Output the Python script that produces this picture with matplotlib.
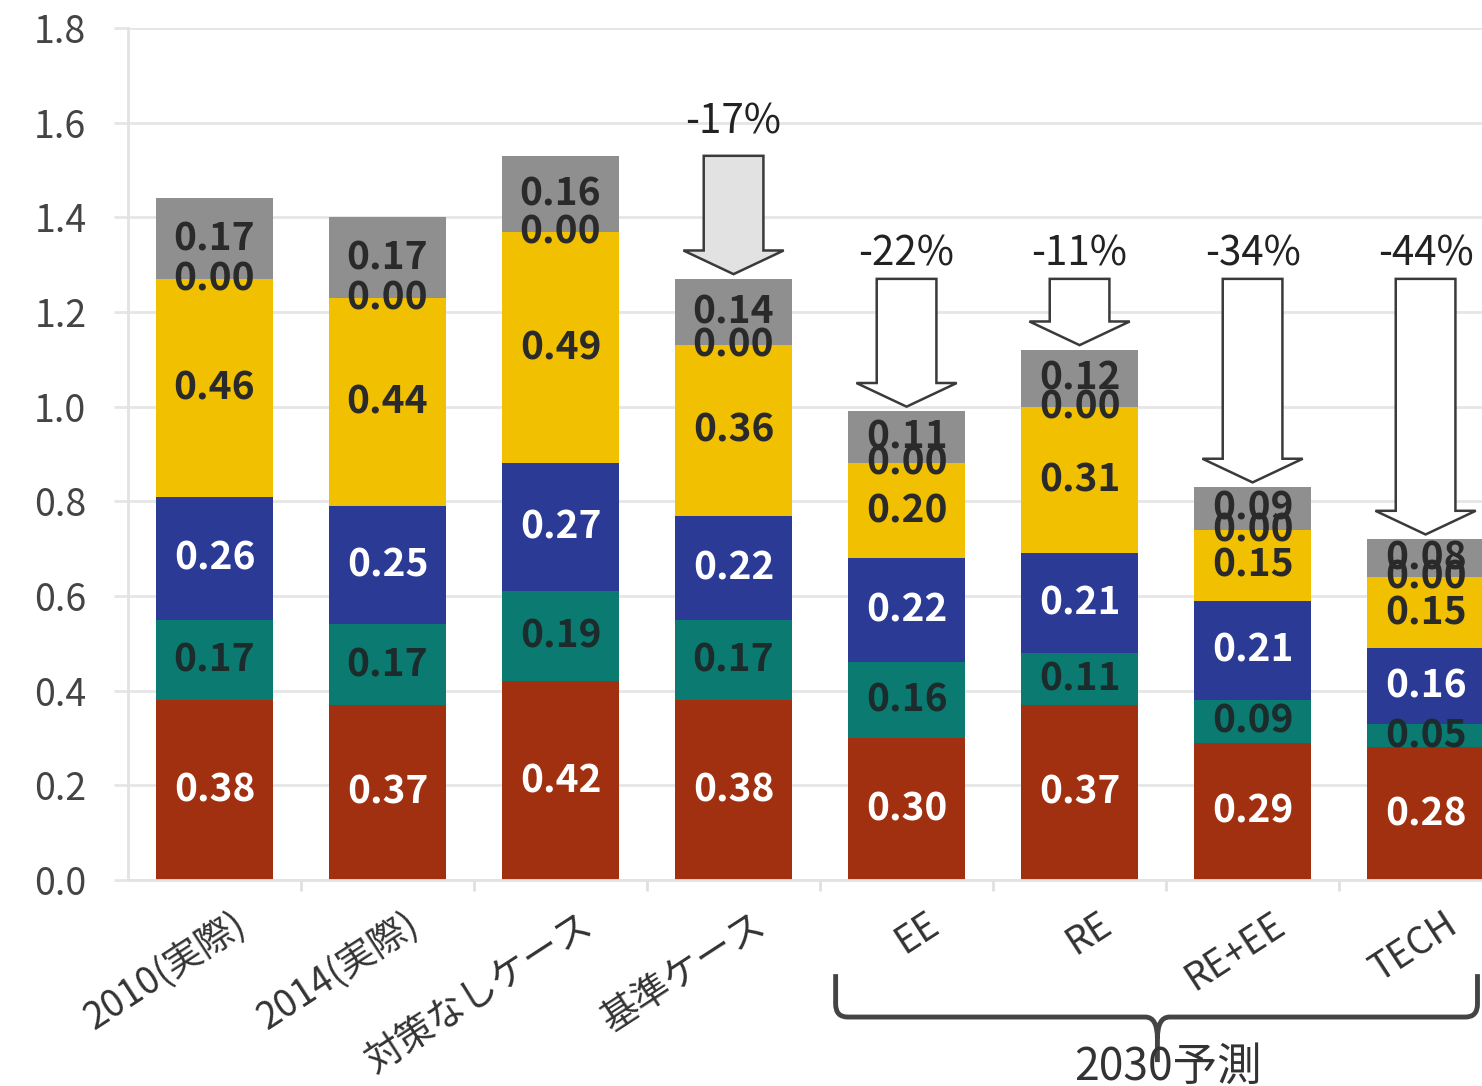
import numpy as np
import matplotlib.pyplot as plt
from matplotlib.patches import FancyArrow, PathPatch
from matplotlib.path import Path
from matplotlib.transforms import blended_transform_factory, ScaledTranslation

plt.rcParams['font.family'] = ['Noto Sans CJK JP', 'DejaVu Sans']

categories = ['2010(実際)', '2014(実際)', '対策なしケース', '基準ケース',
              'EE', 'RE', 'RE+EE', 'TECH']
red_vals = [0.38, 0.37, 0.42, 0.38, 0.30, 0.37, 0.29, 0.28]
teal_vals = [0.17, 0.17, 0.19, 0.17, 0.16, 0.11, 0.09, 0.05]
blue_vals = [0.26, 0.25, 0.27, 0.22, 0.22, 0.21, 0.21, 0.16]
yellow_vals = [0.46, 0.44, 0.49, 0.36, 0.20, 0.31, 0.15, 0.15]
zero_vals = [0.00, 0.00, 0.00, 0.00, 0.00, 0.00, 0.00, 0.00]
gray_vals = [0.17, 0.17, 0.16, 0.14, 0.11, 0.12, 0.09, 0.08]

# reduction arrows: (bar index, index of bar it is compared with, label)
reductions = [(3, 2, '-17%'), (4, 3, '-22%'), (5, 3, '-11%'),
              (6, 3, '-34%'), (7, 3, '-44%')]

layers = [
    (red_vals, '#A0300F', 'white'),
    (teal_vals, '#0B7A70', '#1c2b2b'),
    (blue_vals, '#2B3B95', 'white'),
    (yellow_vals, '#F1C000', '#2a2a2a'),
    (zero_vals, '#F1C000', '#2a2a2a'),
    (gray_vals, '#8F8F8F', '#2a2a2a'),
]

fig = plt.figure(figsize=(14.82, 10.86), dpi=100)
ax = fig.add_axes([0.0864, 0.1897, 0.9339, 0.7845])

x = np.arange(len(categories))
bottom = np.zeros(len(categories))
for vals, color, txt_color in layers:
    vals = np.array(vals)
    ax.bar(x, vals, width=0.675, bottom=bottom, color=color, zorder=2)
    for xi, b, v in zip(x, bottom, vals):
        ax.text(xi, b + v / 2, f'{v:.2f}', ha='center', va='center',
                fontsize=28, fontweight='bold', color=txt_color, zorder=4)
    bottom = bottom + vals
totals = bottom

# block arrows from the comparison level down to each bar top
for idx, ref, label in reductions:
    start = totals[ref]
    end = totals[idx] + 0.01
    fill = '#E2E2E2' if idx == 3 else 'white'
    ax.add_patch(FancyArrow(idx, start, 0, end - start, width=0.345,
                            head_width=0.58, head_length=0.05,
                            length_includes_head=True, facecolor=fill,
                            edgecolor='#3a3a3a', linewidth=1.8, zorder=3))
    gap = 0.072 if idx == 3 else 0.052
    ax.text(idx, start + gap, label, ha='center', va='center',
            fontsize=29, color='#222222', zorder=4)

ax.set_xlim(-0.5, 7.5)
ax.set_ylim(0, 1.8)
ax.set_yticks(np.arange(0, 1.81, 0.2))
ax.set_yticklabels([f'{v:.1f}' for v in np.arange(0, 1.81, 0.2)])
ax.grid(axis='y', color='#e6e6e6', linewidth=2, zorder=0)
ax.set_axisbelow(True)
ax.tick_params(axis='y', length=10, color='#e6e6e6', width=2, pad=20,
               labelsize=27, labelcolor='#444444')

ax.set_xticks(x)
ax.set_xticklabels(categories, rotation=33, ha='right',
                   rotation_mode='anchor', fontsize=27, color='#333333')
ax.set_xticks(x[:-1] + 0.5, minor=True)
ax.tick_params(axis='x', which='major', length=0, pad=18)
ax.tick_params(axis='x', which='minor', length=8, color='#e0e0e0', width=2)
offset = ScaledTranslation(0.18, 0, fig.dpi_scale_trans)
for lbl in ax.get_xticklabels():
    lbl.set_transform(lbl.get_transform() + offset)

for side in ['top', 'right']:
    ax.spines[side].set_visible(False)
for side in ['left', 'bottom']:
    ax.spines[side].set_color('#e2e2e2')
    ax.spines[side].set_linewidth(2)

# curly bracket grouping the 2030 scenarios
trans = blended_transform_factory(ax.transData, fig.transFigure)
xl, xr, xm = 3.59, 7.30, 5.45
yb, ytop, ytip = 0.0635, 0.103, 0.022
r = 0.07
verts = [
    (xl, ytop), (xl, yb + 0.012), (xl, yb), (xl + r, yb),
    (xm - r, yb), (xm, yb), (xm, yb - 0.02), (xm, ytip),
    (xm, yb - 0.02), (xm, yb), (xm + r, yb),
    (xr - r, yb), (xr, yb), (xr, yb + 0.012), (xr, ytop),
]
codes = [Path.MOVETO, Path.LINETO, Path.CURVE3, Path.CURVE3,
         Path.LINETO, Path.CURVE3, Path.CURVE3, Path.LINETO,
         Path.MOVETO, Path.CURVE3, Path.CURVE3,
         Path.LINETO, Path.CURVE3, Path.CURVE3, Path.LINETO]
brace = PathPatch(Path(verts, codes), transform=trans, facecolor='none',
                  edgecolor='#444444', linewidth=3.5, clip_on=False)
fig.add_artist(brace)
fig.text(0.788, 0.039, '2030予測', ha='center', va='top',
         fontsize=32, color='#333333')

fig.savefig('out.png', dpi=100)
